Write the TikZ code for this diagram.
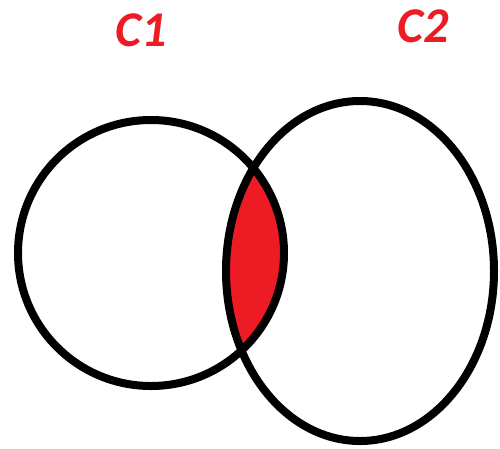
\documentclass[tikz,border=0pt]{standalone}
\usepackage{fontspec}
\setmainfont{Carlito}
\definecolor{setred}{RGB}{237,28,36}
\tikzset{
  setline/.style={line width=8pt, black},
  setlabel/.style={text=setred, font=\fontsize{50}{50}\selectfont\bfseries\itshape, inner sep=0pt}
}
\begin{document}
\begin{tikzpicture}[x=1pt,y=-1pt]
    \useasboundingbox (0,0) rectangle (500,448);
    % intersection
    \begin{scope}
        \clip (151,253) circle [radius=133];
        \fill[setred] (360,271) ellipse [x radius=134, y radius=170];
    \end{scope}
    \draw[setline] (151,253) circle [radius=133];
    \draw[setline] (360,271) ellipse [x radius=134, y radius=170];

    \node[setlabel] (lblA) at (141,30) {C1};
    \node[setlabel] (lblB) at (423,26) {C2};
\end{tikzpicture}
\end{document}
